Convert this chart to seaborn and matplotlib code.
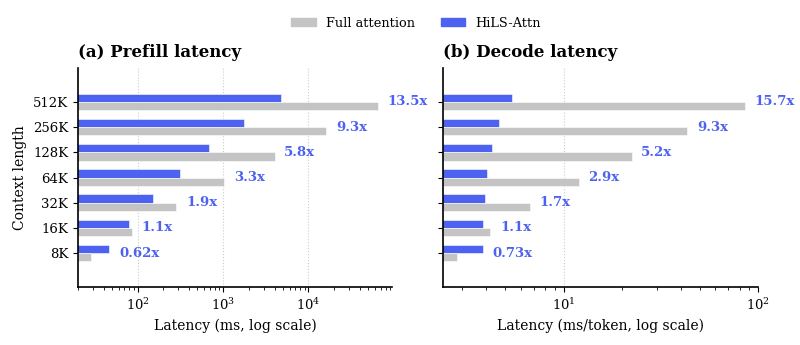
import numpy as np
import pandas as pd
import matplotlib
matplotlib.use("Agg")
import matplotlib.pyplot as plt
import seaborn as sns
from matplotlib.patches import Patch

contexts = ["512K", "256K", "128K", "64K", "32K", "16K", "8K"]
methods = ["HiLS-Attn", "Full attention"]

# latency
prefill_full = [64500, 16200, 4000, 1030, 283, 86, 28.5]
prefill_hils = [4800, 1740, 690, 312, 150, 79, 46.5]
prefill_speedup = ["13.5x", "9.3x", "5.8x", "3.3x", "1.9x", "1.1x", "0.62x"]

decode_full = [85, 43.2, 22.3, 11.9, 6.7, 4.2, 2.81]
decode_hils = [5.42, 4.65, 4.3, 4.05, 3.93, 3.85, 3.85]
decode_speedup = ["15.7x", "9.3x", "5.2x", "2.9x", "1.7x", "1.1x", "0.73x"]

palette = {"HiLS-Attn": "#4D62F0", "Full attention": "#C4C4C4"}
text_blue = "#4D62F0"

sns.set_style("ticks")
plt.rcParams["font.family"] = ["DejaVu Serif"]
for key in ["text.color", "axes.labelcolor", "xtick.color", "ytick.color", "axes.edgecolor"]:
    plt.rcParams[key] = "black"


def make_df(full, hils):
    rows = []
    for c, f, h in zip(contexts, full, hils):
        rows.append({"context": c, "method": "HiLS-Attn", "latency": h})
        rows.append({"context": c, "method": "Full attention", "latency": f})
    return pd.DataFrame(rows)


fig = plt.figure(figsize=(8, 3.45), dpi=100)
ax1 = fig.add_axes([0.0975, 0.168, 0.3925, 0.635])
ax2 = fig.add_axes([0.554, 0.168, 0.394, 0.635])

panels = [
    (ax1, prefill_full, prefill_hils, prefill_speedup, "(a) Prefill latency",
     "Latency (ms, log scale)", (20, 95000)),
    (ax2, decode_full, decode_hils, decode_speedup, "(b) Decode latency",
     "Latency (ms/token, log scale)", (2.4, 100)),
]

for ax, full, hils, speed, title, xlabel, xlim in panels:
    df = make_df(full, hils)
    sns.barplot(data=df, y="context", x="latency", hue="method", order=contexts,
                hue_order=methods, palette=palette, orient="h", width=0.66,
                saturation=1, edgecolor="white", linewidth=0.4, legend=False, ax=ax)
    ax.set_xscale("log")
    ax.set_xlim(*xlim)
    ax.set_ylim(len(contexts) - 1 + 1.35, -1.35)
    ax.grid(axis="x", which="major", linestyle=":", color="#cccccc", linewidth=0.8)
    ax.set_axisbelow(True)
    for i, (f, h, s) in enumerate(zip(full, hils, speed)):
        ax.annotate(s, xy=(max(f, h), i), xytext=(7, 0), textcoords="offset points",
                    ha="left", va="center", color=text_blue, fontsize=9.5,
                    fontweight="bold")
    ax.set_title(title, loc="left", fontsize=12, fontweight="bold", pad=8)
    ax.set_xlabel(xlabel, fontsize=10)
    ax.tick_params(labelsize=9.5)
    for side in ["left", "bottom"]:
        ax.spines[side].set_linewidth(1.2)
    sns.despine(ax=ax)

ax1.set_ylabel("Context length", fontsize=10)
ax2.set_ylabel("")
ax2.set_yticklabels([])

handles = [Patch(color=palette["Full attention"]), Patch(color=palette["HiLS-Attn"])]
fig.legend(handles, ["Full attention", "HiLS-Attn"], loc="upper center",
           bbox_to_anchor=(0.52, 0.985), ncol=2, frameon=False, fontsize=9.3,
           handlelength=1.9, handleheight=0.55, handletextpad=0.8, columnspacing=2.0)

fig.savefig("out.png", dpi=100)
